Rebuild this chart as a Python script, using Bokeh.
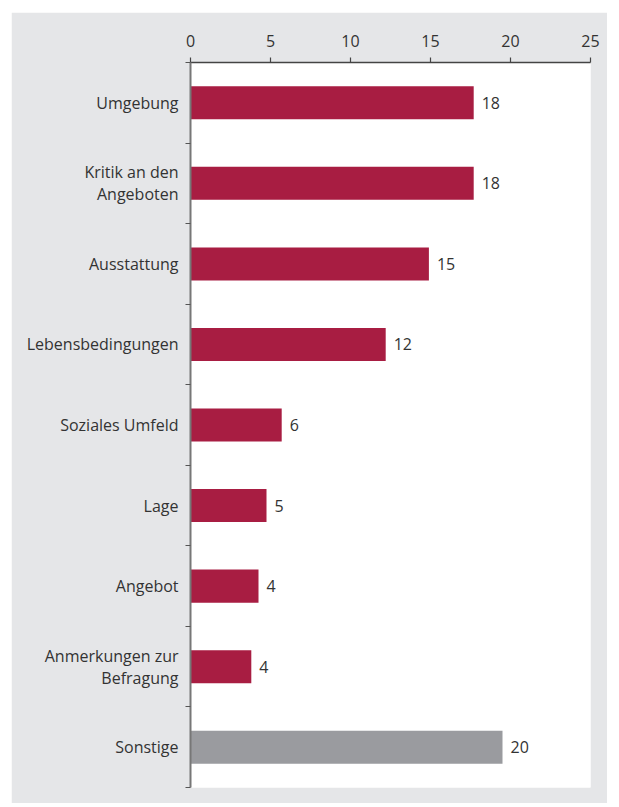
from bokeh.plotting import figure
from bokeh.models import ColumnDataSource, Range1d, FixedTicker, Spacer
from bokeh.layouts import column, row
from bokeh.core.properties import value
from bokeh.embed import file_html
from bokeh.resources import INLINE

categories = ["Umgebung", "Kritik an den\nAngeboten", "Ausstattung", "Lebensbedingungen",
              "Soziales Umfeld", "Lage", "Angebot", "Anmerkungen zur\nBefragung", "Sonstige"]
values = [17.7, 17.7, 14.9, 12.2, 5.7, 4.75, 4.25, 3.8, 19.5]
labels = ["18", "18", "15", "12", "6", "5", "4", "4", "20"]
x_ticks = [0, 5, 10, 15, 20, 25]

RED = "#a81d42"
GREY = "#9a9b9f"
BG = "#e5e6e8"
TXT = "#333333"
FONT = "Open Sans"
FS = "16px"

n = len(categories)
ypos = list(range(n))
colors = [RED] * (n - 1) + [GREY]

src = ColumnDataSource(dict(y=ypos, v=values, lab=labels, c=colors))

p = figure(output_backend="svg", toolbar_location=None,
           frame_width=400, frame_height=725,
           min_border_left=179, min_border_right=17, min_border_top=50, min_border_bottom=16,
           x_range=Range1d(0, 25), y_range=Range1d(n - 0.5, -0.5),
           x_axis_location="above")
p.border_fill_color = BG
p.background_fill_color = "white"
p.outline_line_color = None
p.grid.visible = False

p.hbar(y="y", right="v", left=0, height=0.41, color="c", line_color=None, source=src)
p.text(x="v", y="y", text="lab", source=src, x_offset=8, text_align="left",
       text_baseline="middle", text_font=value(FONT), text_font_size=FS, text_color=TXT)

xa = p.xaxis[0]
xa.ticker = FixedTicker(ticks=x_ticks)
xa.major_tick_out = 5
xa.major_tick_in = 0
xa.minor_tick_out = 0
xa.minor_tick_in = 0
xa.axis_line_color = "#444444"
xa.axis_line_width = 1.5
xa.major_tick_line_color = "#444444"
xa.major_tick_line_width = 1.2
xa.major_label_text_font = FONT
xa.major_label_text_font_size = FS
xa.major_label_text_color = TXT
xa.major_label_standoff = 11

ya = p.yaxis[0]
ya.ticker = FixedTicker(ticks=ypos, minor_ticks=[i - 0.5 for i in range(n + 1)])
ya.major_label_overrides = {i: categories[i] for i in ypos}
ya.major_tick_out = 0
ya.major_tick_in = 0
ya.minor_tick_out = 5
ya.minor_tick_in = 0
ya.axis_line_color = "#777777"
ya.axis_line_width = 2
ya.minor_tick_line_color = "#555555"
ya.minor_tick_line_width = 1.2
ya.major_label_text_font = FONT
ya.major_label_text_font_size = FS
ya.major_label_text_color = TXT
ya.major_label_text_align = "right"
ya.major_label_text_line_height = 1.0
ya.major_label_standoff = 7

layout = column(Spacer(height=12), row(Spacer(width=11), p))
open("out.html", "w").write(file_html(layout, INLINE))
